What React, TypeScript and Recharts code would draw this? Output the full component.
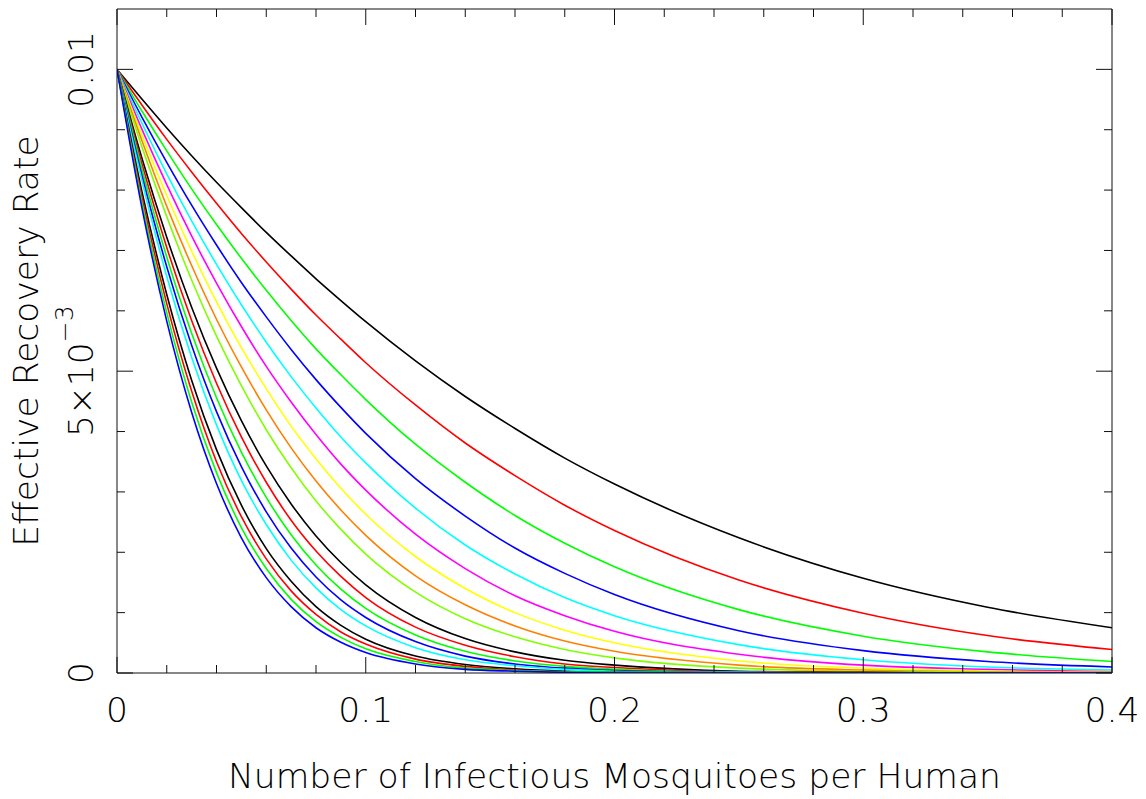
import React from 'react';
import { LineChart, Line, XAxis, YAxis } from 'recharts';

// x positions (infectious mosquitoes per human)
const X_VALUES = [0, 0.01, 0.02, 0.03, 0.04, 0.05, 0.06, 0.07, 0.08, 0.09, 0.1, 0.12, 0.14, 0.16, 0.18, 0.2, 0.25, 0.3, 0.35, 0.4];

// effective recovery rate curves (top to bottom)
const black1 = [0.01, 0.00951, 0.00903, 0.00857, 0.00813, 0.00771, 0.0073, 0.00691, 0.00653, 0.00617, 0.00582, 0.00517, 0.00458, 0.00405, 0.00356, 0.00313, 0.00224, 0.00157, 0.00109, 0.00075];
const red1 = [0.01, 0.00941, 0.00884, 0.0083, 0.00778, 0.00728, 0.00681, 0.00636, 0.00593, 0.00553, 0.00514, 0.00444, 0.00381, 0.00327, 0.00278, 0.00236, 0.00154, 0.00099, 0.00062, 0.00039];
const green1 = [0.01, 0.00931, 0.00865, 0.00802, 0.00743, 0.00687, 0.00634, 0.00584, 0.00537, 0.00494, 0.00453, 0.00379, 0.00316, 0.00261, 0.00215, 0.00176, 0.00105, 0.00061, 0.00035, 0.00019];
const blue1 = [0.01, 0.00921, 0.00846, 0.00775, 0.00709, 0.00647, 0.0059, 0.00536, 0.00486, 0.0044, 0.00397, 0.00322, 0.0026, 0.00207, 0.00165, 0.0013, 0.0007, 0.00037, 0.00019, 0.0001];
const cyan1 = [0.01, 0.00911, 0.00827, 0.00749, 0.00677, 0.0061, 0.00548, 0.00491, 0.00439, 0.00391, 0.00348, 0.00273, 0.00212, 0.00164, 0.00125, 0.00095, 0.00047, 0.00022, 0.0001, 0.00005];
const magenta1 = [0.01, 0.00901, 0.00809, 0.00724, 0.00646, 0.00574, 0.00508, 0.00449, 0.00395, 0.00346, 0.00303, 0.0023, 0.00173, 0.00128, 0.00095, 0.00069, 0.00031, 0.00013, 0.00006, 0.00002];
const yellow1 = [0.01, 0.00891, 0.00791, 0.00699, 0.00615, 0.00539, 0.00471, 0.00409, 0.00355, 0.00306, 0.00263, 0.00193, 0.0014, 0.001, 0.00071, 0.0005, 0.0002, 0.00008, 0.00003, 0.00001];
const orange1 = [0.01, 0.00882, 0.00773, 0.00675, 0.00586, 0.00507, 0.00436, 0.00373, 0.00318, 0.0027, 0.00228, 0.00161, 0.00113, 0.00078, 0.00053, 0.00036, 0.00013, 0.00005, 0.00002, 0.00001];
const lime1 = [0.01, 0.00872, 0.00756, 0.00651, 0.00558, 0.00476, 0.00403, 0.0034, 0.00285, 0.00238, 0.00197, 0.00134, 0.0009, 0.0006, 0.00039, 0.00025, 0.00008, 0.00003, 0.00001, 0];
const black2 = [0.01, 0.00853, 0.00722, 0.00606, 0.00505, 0.00418, 0.00343, 0.0028, 0.00227, 0.00183, 0.00146, 0.00092, 0.00057, 0.00035, 0.00021, 0.00013, 0.00003, 0.00001, 0, 0];
const red2 = [0.01, 0.00844, 0.00705, 0.00584, 0.0048, 0.00391, 0.00316, 0.00253, 0.00202, 0.0016, 0.00125, 0.00076, 0.00046, 0.00027, 0.00015, 0.00009, 0.00002, 0.00001, 0, 0];
const green2 = [0.01, 0.00835, 0.00689, 0.00563, 0.00456, 0.00366, 0.00291, 0.00229, 0.00179, 0.00139, 0.00107, 0.00063, 0.00036, 0.0002, 0.00011, 0.00006, 0.00001, 0, 0, 0];
const blue2 = [0.01, 0.00825, 0.00673, 0.00543, 0.00433, 0.00342, 0.00267, 0.00207, 0.00159, 0.00121, 0.00092, 0.00052, 0.00028, 0.00015, 0.00008, 0.00004, 0.00001, 0, 0, 0];
const cyan2 = [0.01, 0.00816, 0.00657, 0.00523, 0.00411, 0.00319, 0.00246, 0.00187, 0.00141, 0.00105, 0.00078, 0.00042, 0.00022, 0.00012, 0.00006, 0.00003, 0.00001, 0, 0, 0];
const black3 = [0.01, 0.00798, 0.00627, 0.00485, 0.0037, 0.00278, 0.00206, 0.00152, 0.0011, 0.00079, 0.00056, 0.00028, 0.00014, 0.00007, 0.00003, 0.00001, 0, 0, 0, 0];
const red3 = [0.01, 0.00789, 0.00612, 0.00467, 0.0035, 0.00259, 0.00189, 0.00136, 0.00097, 0.00068, 0.00048, 0.00023, 0.00011, 0.00005, 0.00002, 0.00001, 0, 0, 0, 0];
const green3 = [0.01, 0.0078, 0.00597, 0.00449, 0.00332, 0.00241, 0.00173, 0.00122, 0.00085, 0.00059, 0.0004, 0.00019, 0.00008, 0.00004, 0.00002, 0.00001, 0, 0, 0, 0];
const blue3 = [0.01, 0.00771, 0.00583, 0.00432, 0.00314, 0.00224, 0.00158, 0.0011, 0.00075, 0.00051, 0.00034, 0.00015, 0.00006, 0.00003, 0.00001, 0, 0, 0, 0, 0];

const SERIES = [black1, red1, green1, blue1, cyan1, magenta1, yellow1, orange1, lime1, black2, red2, green2, blue2, cyan2, black3, red3, green3, blue3];
const COLORS = ['#000000', '#ff0000', '#00ff00', '#0000ff', '#00ffff', '#ff00ff', '#ffff00', '#ff8000', '#80ff00', '#000000', '#ff0000', '#00ff00', '#0000ff', '#00ffff', '#000000', '#ff0000', '#00ff00', '#0000ff'];

// axis ticks
const X_TICKS = [0, 0.02, 0.04, 0.06, 0.08, 0.1, 0.12, 0.14, 0.16, 0.18, 0.2, 0.22, 0.24, 0.26, 0.28, 0.3, 0.32, 0.34, 0.36, 0.38, 0.4];
const X_MAJOR = [0, 0.1, 0.2, 0.3, 0.4];
const X_LABELS = ['0', '0.1', '0.2', '0.3', '0.4'];
const Y_TICKS = [0, 0.001, 0.002, 0.003, 0.004, 0.005, 0.006, 0.007, 0.008, 0.009, 0.01];
const Y_MAJOR = [0, 0.005, 0.01];

const X_TITLE = 'Number of Infectious Mosquitoes per Human';
const Y_TITLE = 'Effective Recovery Rate';

const W = 1146;
const H = 799;
// each axis takes 1px, so the plot spans x 117..1112, y 9..673
const MARGIN = { top: 8, right: 33, bottom: 125, left: 116 };
const PLOT_TOP = 9;
const PLOT_BOTTOM = 673;
const PLOT_LEFT = 117;
const PLOT_RIGHT = 1112;
const FONT = "'DejaVu Sans', 'Liberation Sans', sans-serif";
const FS = 34.5;
const MAJOR_LEN = 16;
const MINOR_LEN = 8;
const AXIS = '#111';

const data = X_VALUES.map((x, i) => {
  const row: Record<string, number> = { x };
  SERIES.forEach((s, k) => {
    row['c' + k] = s[i];
  });
  return row;
});

const near = (a: number, b: number) => Math.abs(a - b) < 1e-9;
const majorIndex = (list: number[], v: number) => list.findIndex((m) => near(m, v));

const BottomTick = (props: any) => {
  const { x, payload } = props;
  const y = PLOT_BOTTOM;
  const mi = majorIndex(X_MAJOR, payload.value);
  const len = mi >= 0 ? MAJOR_LEN : MINOR_LEN;
  return (
    <g>
      <line x1={x} x2={x} y1={y} y2={y - len} stroke={AXIS} strokeWidth={1} />
      {mi >= 0 && (
        <text x={x} y={y + 49} textAnchor="middle" fontFamily={FONT} fontWeight={200} fontSize={FS} fill="#000">
          {X_LABELS[mi]}
        </text>
      )}
    </g>
  );
};

const TopTick = (props: any) => {
  const { x, payload } = props;
  const y = PLOT_TOP;
  const mi = majorIndex(X_MAJOR, payload.value);
  const len = mi >= 0 ? MAJOR_LEN : MINOR_LEN;
  return <line x1={x} x2={x} y1={y} y2={y + len} stroke={AXIS} strokeWidth={1} />;
};

const LeftTick = (props: any) => {
  const { y, payload } = props;
  const x = PLOT_LEFT;
  const mi = majorIndex(Y_MAJOR, payload.value);
  const len = mi >= 0 ? MAJOR_LEN : MINOR_LEN;
  const tx = x - 24;
  let label: React.ReactNode = null;
  if (mi === 0) label = '0';
  if (mi === 2) label = '0.01';
  if (mi === 1)
    label = (
      <>
        <tspan>5×10</tspan>
        <tspan dy={-20} fontSize={25}>−3</tspan>
      </>
    );
  return (
    <g>
      <line x1={x} x2={x + len} y1={y} y2={y} stroke={AXIS} strokeWidth={1} />
      {label !== null && (
        <text
          x={tx}
          y={y}
          transform={`rotate(-90, ${tx}, ${y})`}
          textAnchor="middle"
          fontFamily={FONT}
          fontWeight={200}
          fontSize={FS}
          fill="#000"
        >
          {label}
        </text>
      )}
    </g>
  );
};

const RightTick = (props: any) => {
  const { y, payload } = props;
  const x = PLOT_RIGHT;
  const mi = majorIndex(Y_MAJOR, payload.value);
  const len = mi >= 0 ? MAJOR_LEN : MINOR_LEN;
  return <line x1={x} x2={x - len} y1={y} y2={y} stroke={AXIS} strokeWidth={1} />;
};

export default function App() {
  const plotMidY = (PLOT_TOP + PLOT_BOTTOM) / 2;
  const plotMidX = (PLOT_LEFT + PLOT_RIGHT) / 2;
  return (
    <div style={{ position: 'relative', width: W, height: H, background: '#fff' }}>
      <style>{'body{margin:0;background:#fff}'}</style>
      <LineChart width={W} height={H} data={data} margin={MARGIN}>
        <XAxis
          xAxisId="b"
          dataKey="x"
          type="number"
          domain={[0, 0.4]}
          ticks={X_TICKS}
          interval={0}
          height={1}
          tickSize={0}
          tickMargin={0}
          tickLine={false}
          axisLine={{ stroke: AXIS, strokeWidth: 1 }}
          tick={<BottomTick />}
          allowDataOverflow
        />
        <XAxis
          xAxisId="t"
          orientation="top"
          dataKey="x"
          type="number"
          domain={[0, 0.4]}
          ticks={X_TICKS}
          interval={0}
          height={1}
          tickSize={0}
          tickMargin={0}
          tickLine={false}
          axisLine={{ stroke: AXIS, strokeWidth: 1 }}
          tick={<TopTick />}
          allowDataOverflow
        />
        <YAxis
          yAxisId="l"
          type="number"
          domain={[0, 0.011]}
          ticks={Y_TICKS}
          interval={0}
          width={1}
          tickSize={0}
          tickMargin={0}
          tickLine={false}
          axisLine={{ stroke: AXIS, strokeWidth: 1 }}
          tick={<LeftTick />}
          allowDataOverflow
        />
        <YAxis
          yAxisId="r"
          orientation="right"
          type="number"
          domain={[0, 0.011]}
          ticks={Y_TICKS}
          interval={0}
          width={1}
          tickSize={0}
          tickMargin={0}
          tickLine={false}
          axisLine={{ stroke: AXIS, strokeWidth: 1 }}
          tick={<RightTick />}
          allowDataOverflow
        />
        {SERIES.map((_, k) => (
          <Line
            key={k}
            xAxisId="b"
            yAxisId="l"
            dataKey={'c' + k}
            type="monotone"
            stroke={COLORS[k]}
            strokeWidth={1.6}
            dot={false}
            activeDot={false}
            isAnimationActive={false}
          />
        ))}
      </LineChart>
      <svg width={W} height={H} style={{ position: 'absolute', left: 0, top: 0, pointerEvents: 'none' }}>
        <text x={plotMidX} y={788} textAnchor="middle" fontFamily={FONT} fontWeight={200} fontSize={FS} fill="#000">
          {X_TITLE}
        </text>
        <text
          x={38}
          y={plotMidY}
          transform={`rotate(-90, 38, ${plotMidY})`}
          textAnchor="middle"
          fontFamily={FONT}
          fontWeight={200}
          fontSize={FS}
          fill="#000"
        >
          {Y_TITLE}
        </text>
      </svg>
    </div>
  );
}
